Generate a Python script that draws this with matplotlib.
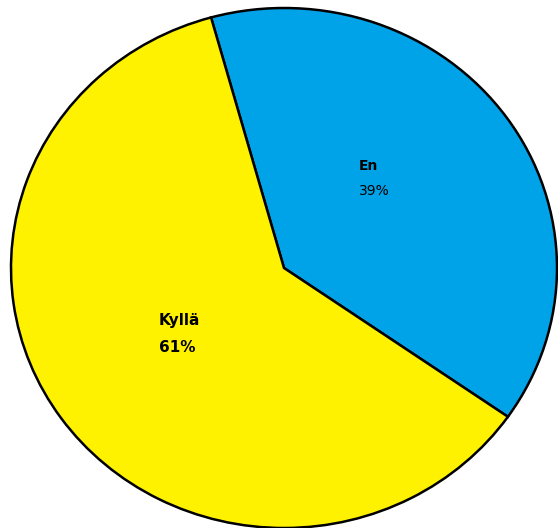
import matplotlib
matplotlib.use("Agg")
import matplotlib.pyplot as plt

# --- Data ---
labels = ["En", "Kyllä"]
values = [39, 61]
colors = ["#00A2E8", "#FFF200"]

W, H = 558, 528
fig = plt.figure(figsize=(W / 100, H / 100), dpi=100)
ax = fig.add_axes([0, 0, 1, 1])

# pie is slightly elliptical in the reference: centre / radii in pixels
cx, cy, rx, ry = 284, 268, 273, 260
ax.pie(values, colors=colors, startangle=105.5, counterclock=False,
       center=(0, 0), radius=1,
       wedgeprops=dict(edgecolor="black", linewidth=1.8))
ax.set_aspect("auto")
ax.set_xlim(-cx / rx, (W - cx) / rx)
ax.set_ylim(-(H - cy) / ry, cy / ry)
ax.axis("off")


def put(x, y, s, **kw):
    fig.text(x / W, 1 - y / H, s, va="top", ha="left", **kw)


# Slice labels
put(359, 159, labels[0], fontsize=10, fontweight="bold")
put(359, 184, f"{values[0]}%", fontsize=10)
put(159, 313, labels[1], fontsize=11, fontweight="bold")
put(159, 340, f"{values[1]}%", fontsize=11, fontweight="bold")

fig.savefig("out.png", dpi=100)
